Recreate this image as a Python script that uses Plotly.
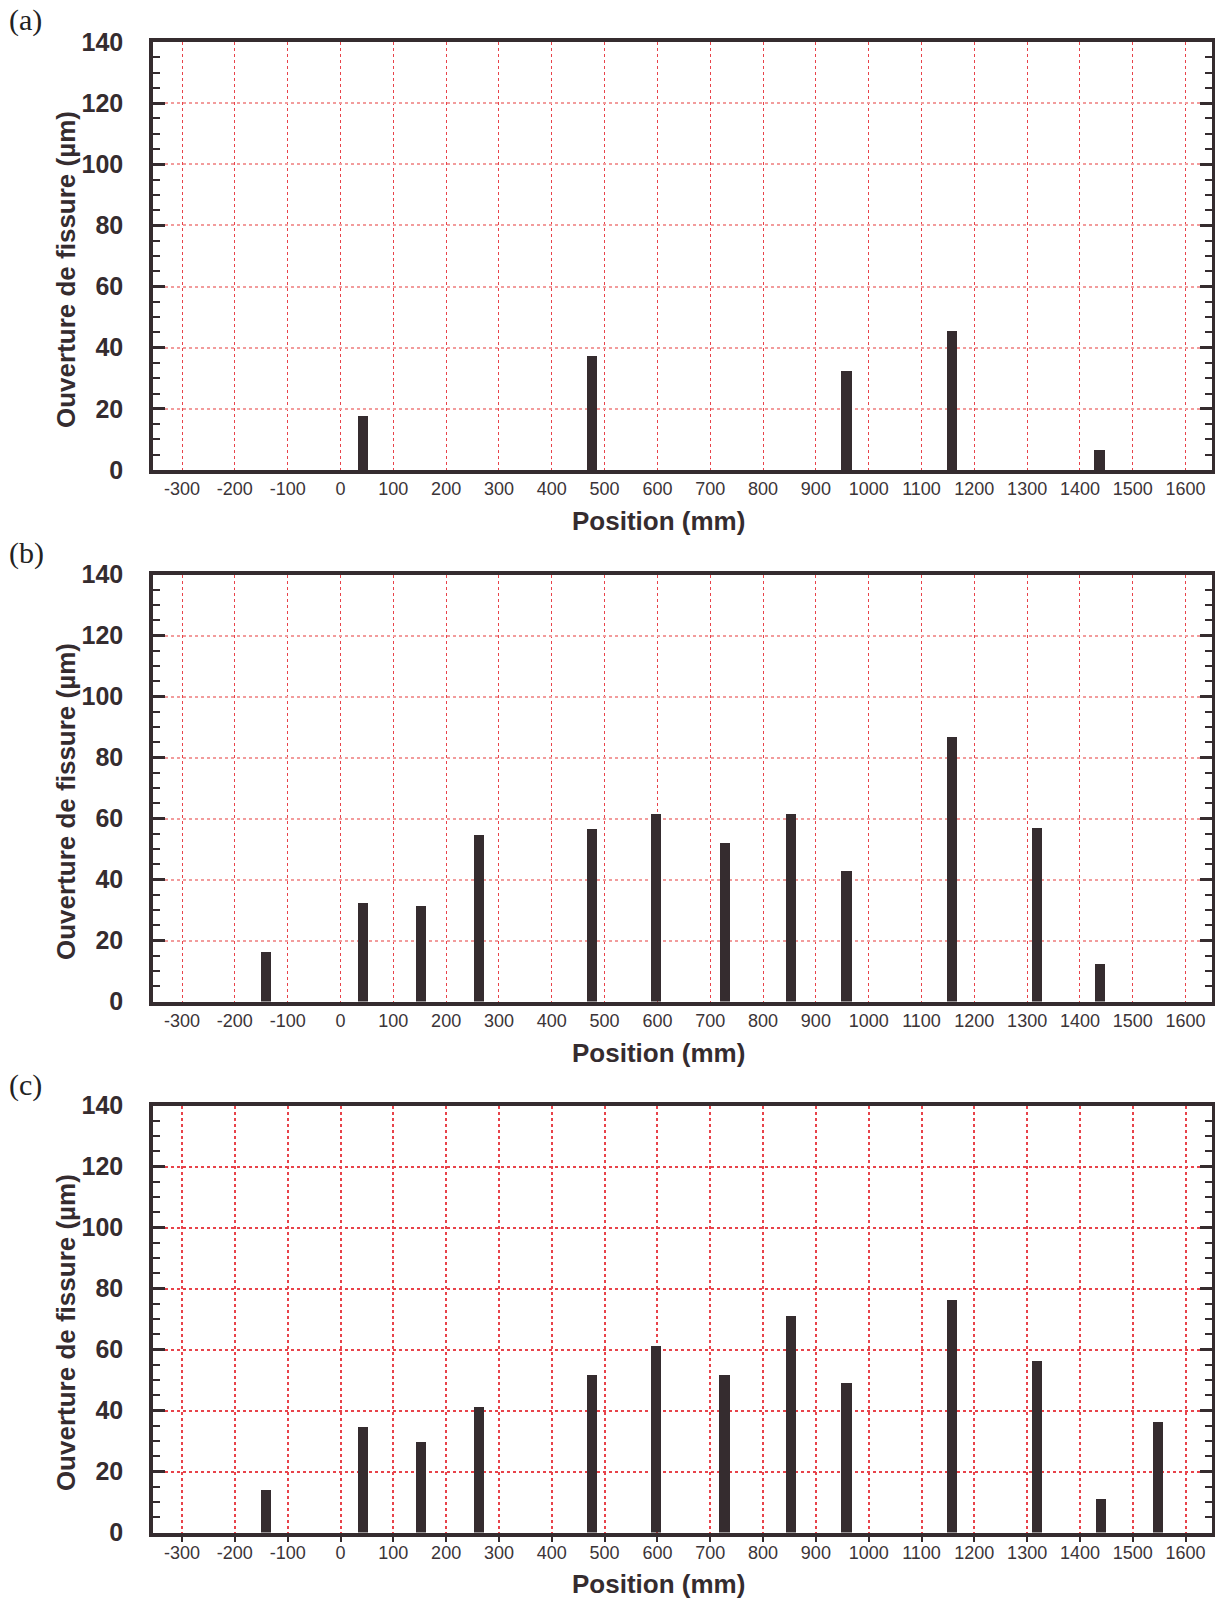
import plotly.graph_objects as go

# ---------------- data ----------------
POS_A = [42, 477, 958, 1157, 1437]
VAL_A = [17.7, 37.3, 32.4, 45.5, 6.5]

POS_B = [-141, 42, 152, 262, 477, 598, 728, 853, 958, 1158, 1319, 1438]
VAL_B = [16.5, 32.5, 31.5, 54.7, 56.7, 61.8, 52.0, 61.8, 42.8, 86.8, 56.9, 12.6]

POS_C = [-141, 42, 152, 263, 476, 597, 727, 852, 958, 1158, 1318, 1439, 1547]
VAL_C = [14.2, 34.7, 29.8, 41.3, 51.9, 61.2, 51.6, 71.0, 49.2, 76.3, 56.5, 11.2, 36.3]

X_TICKS = [-300, -200, -100, 0, 100, 200, 300, 400, 500, 600, 700, 800,
           900, 1000, 1100, 1200, 1300, 1400, 1500, 1600]
X_TICK_LABELS = ["-300", "-200", "-100", "0", "100", "200", "300", "400", "500",
                 "600", "700", "800", "900", "1000", "1100", "1200", "1300",
                 "1400", "1500", "1600"]
Y_TICKS = [0, 20, 40, 60, 80, 100, 120, 140]
Y_TICK_LABELS = ["0", "20", "40", "60", "80", "100", "120", "140"]

PANEL_LABELS = ["(a)", "(b)", "(c)"]
X_TITLE = "Position (mm)"
Y_TITLE = "Ouverture de fissure (µm)"

# ---------------- style ----------------
W, H = 1215, 1598
DARK = "#352c2f"
RED = "#e8434a"
PINK = "#f29c9c"
SANS = "Liberation Sans, Arial, Helvetica, sans-serif"
SERIF = "Liberation Serif, Times New Roman, serif"
X_RANGE = [-355, 1650]
Y_RANGE = [0, 140]
BAR_W = 19
BAR_FOOT = 1.6  # bars start slightly below the axis line

# panel pixel boxes (top, bottom)
PANELS_PX = [(42, 470), (574.5, 1001.5), (1105.7, 1532.5)]
X_DOM = [153 / W, 1212 / W]

panels = [(POS_A, VAL_A), (POS_B, VAL_B), (POS_C, VAL_C)]

fig = go.Figure()
layout = dict(
    width=W, height=H, autosize=False,
    margin=dict(l=0, r=0, t=0, b=0, pad=0),
    paper_bgcolor="white", plot_bgcolor="white",
    showlegend=False, bargap=0,
    font=dict(family=SANS, color=DARK),
)
annotations = []

for i, (pos, val) in enumerate(panels):
    n = i + 1
    top_px, bot_px = PANELS_PX[i]
    ydom = [1 - bot_px / H, 1 - top_px / H]
    xa = "x" if n == 1 else f"x{n}"
    ya = "y" if n == 1 else f"y{n}"
    fig.add_trace(go.Bar(
        x=pos, y=[v + BAR_FOOT for v in val], base=[-BAR_FOOT] * len(val),
        width=BAR_W, marker=dict(color=DARK, line=dict(width=0)),
        cliponaxis=False, xaxis=xa, yaxis=ya,
    ))
    strong = (n == 3)
    gx = dict(color=RED, width=2 if strong else 1.3)
    gy = dict(color=RED if strong else PINK, width=2)
    layout[f"xaxis{n}" if n > 1 else "xaxis"] = dict(
        domain=X_DOM, range=X_RANGE, anchor=ya, automargin=False,
        tickmode="array", tickvals=X_TICKS, ticktext=X_TICK_LABELS,
        showgrid=True, gridcolor=gx["color"], gridwidth=gx["width"], griddash="dot",
        zeroline=False, showline=True, linecolor=DARK, linewidth=3.5, mirror=True,
        ticks="outside" if strong else "", ticklen=6, tickwidth=2, tickcolor=DARK,
        tickfont=dict(family=SANS, size=18, color="#3b3437"),
        ticklabelstandoff=-5 if strong else 0,
    )
    # top ticks (outward)
    layout[f"xaxis{n + 3}"] = dict(
        domain=X_DOM, range=X_RANGE, anchor=ya, overlaying=xa, side="top",
        automargin=False,
        tickmode="array", tickvals=X_TICKS, showticklabels=False,
        ticks="outside", ticklen=6, tickwidth=2, tickcolor=DARK,
        showgrid=False, zeroline=False, showline=False,
    )
    layout[f"yaxis{n}" if n > 1 else "yaxis"] = dict(
        domain=ydom, range=Y_RANGE, anchor=xa, automargin=False,
        tickmode="array", tickvals=Y_TICKS, ticktext=Y_TICK_LABELS,
        showgrid=True, gridcolor=gy["color"], gridwidth=gy["width"], griddash="dot",
        zeroline=False, showline=True, linecolor=DARK, linewidth=3.5, mirror="ticks",
        ticks="inside", ticklen=12, tickwidth=2.5, tickcolor=DARK,
        minor=dict(dtick=5, tick0=0, ticks="inside", ticklen=7, tickwidth=2,
                   tickcolor=DARK, showgrid=False),
        tickfont=dict(family=SANS, size=25, color=DARK, weight="bold"),
        ticklabelstandoff=21,
    )
    ymid = (ydom[0] + ydom[1]) / 2
    annotations.append(dict(
        text=Y_TITLE, xref="paper", yref="paper", x=66 / W, y=ymid, yshift=-14,
        xanchor="center", yanchor="middle", textangle=-90, showarrow=False,
        font=dict(family=SANS, size=26, color=DARK, weight="bold"),
    ))
    annotations.append(dict(
        text=X_TITLE, xref="paper", yref="paper", x=658 / W, y=ydom[0], yshift=-51,
        xanchor="center", yanchor="middle", showarrow=False,
        font=dict(family=SANS, size=26, color=DARK, weight="bold"),
    ))
    label_y = [20, 553, 1085][i]
    annotations.append(dict(
        text=PANEL_LABELS[i], xref="paper", yref="paper", x=7 / W, y=1 - label_y / H,
        xanchor="left", yanchor="middle", showarrow=False,
        font=dict(family=SERIF, size=30, color="#222222"),
    ))

layout["annotations"] = annotations
fig.update_layout(**layout)

fig.write_html("out.html", include_plotlyjs=True,
               config={"displayModeBar": False},
               post_script="document.body.style.margin='0';document.body.style.overflow='hidden';")
